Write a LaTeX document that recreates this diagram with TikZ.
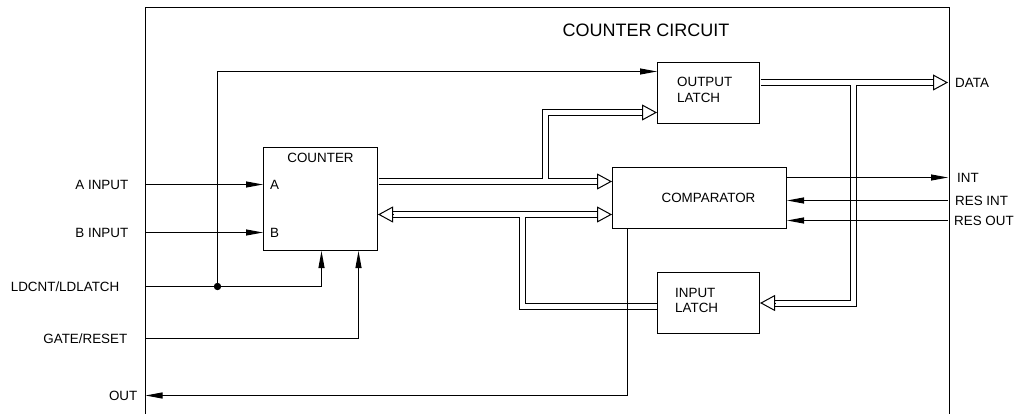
\documentclass[tikz,border=0pt]{standalone}
\usepackage{fontspec}
\setmainfont{Liberation Sans}
\usetikzlibrary{arrows.meta,positioning}

\newcommand\lblfont{\fontsize{13.4}{15.5}\selectfont}
\newcommand\ttlfont{\fontsize{18}{21}\selectfont}

\tikzset{
  blk/.style={draw, line width=1pt, inner sep=0pt},
  lbl/.style={font=\lblfont, inner sep=0pt, text height=9.6pt, text depth=0pt},
  blktxt/.style={font=\lblfont, inner sep=0pt, align=left, anchor=west},
  wire/.style={line width=1pt},
  sig/.style={line width=1pt, -{Triangle[length=17pt,width=6pt]}},
  bus/.style={double, double distance=5pt, line width=1pt},
  bustip/.style={line width=1pt, -{Triangle[length=15pt,width=16pt,fill=white]}},
}

\begin{document}
\begin{tikzpicture}[x=1pt,y=-1pt]
    \useasboundingbox (0,0) rectangle (1016,414);
    % frame
    \draw[wire] (145.5,414) |- (949.5,7.5) -- (949.5,414);
    \node[font=\ttlfont, inner sep=0pt] (title) at (646,30) {COUNTER CIRCUIT};

    % blocks
    \node[blk, minimum width=114pt, minimum height=103pt] (counter) at (320.5,199) {};
    \node[blk, minimum width=174pt, minimum height=61pt] (comparator) at (699.5,198) {};
    \node[blk, minimum width=102pt, minimum height=61pt] (outlatch) at (708.5,93) {};
    \node[blk, minimum width=102pt, minimum height=61pt] (inlatch) at (708.5,303) {};
    \node[lbl, below=6pt of counter.north] (cnttxt) {COUNTER};
    \node[lbl] (cmptxt) at ([xshift=9pt]comparator.center) {COMPARATOR};
    \node[blktxt] (oltxt) at ([xshift=20pt,yshift=3pt]outlatch.west) {OUTPUT\\LATCH};
    \node[blktxt] (iltxt) at ([xshift=18pt,yshift=2.5pt]inlatch.west) {INPUT\\LATCH};

    % pins on the frame
    \coordinate (aIn) at (145.5,184.5);
    \coordinate (bIn) at (145.5,232.5);
    \coordinate (ldIn) at (145.5,286.5);
    \coordinate (gateIn) at (145.5,338.5);
    \coordinate (outp) at (145.5,395.5);
    \coordinate (jn) at (217.5,286.5);
    \coordinate (data) at (948,82.5);
    \coordinate (int) at (948,177.5);
    \coordinate (resInt) at (948,200.5);
    \coordinate (resOut) at (948,220.5);
    \node[lbl, left=17pt of aIn] (aLbl) {A INPUT};
    \node[lbl, left=17pt of bIn] (bLbl) {B INPUT};
    \node[lbl, left=26pt of ldIn] (ldLbl) {LDCNT/LDLATCH};
    \node[lbl, left=18pt of gateIn] (gateLbl) {GATE/RESET};
    \node[lbl, left=8pt of outp] (outLbl) {OUT};
    \node[lbl, right=7pt of data] (dataLbl) {DATA};
    \node[lbl, right=9pt of int] (intLbl) {INT};
    \node[lbl, right=7pt of resInt] (resIntLbl) {RES INT};
    \node[lbl, right=6pt of resOut] (resOutLbl) {RES OUT};
    \node[lbl, anchor=west] (pinA) at ([xshift=7pt]aIn -| counter.west) {A};
    \node[lbl, anchor=west] (pinB) at ([xshift=7pt]bIn -| counter.west) {B};

    % busses
    \coordinate (upBr) at (545.5,181.5);
    \coordinate (loBr) at (522.5,214.5);
    \coordinate (dataBr) at (853.5,82.5);
    \draw[bus, shorten <=0.5pt, shorten >=14pt] (counter.east |- upBr) -- (comparator.west |- upBr);
    \draw[bustip] ([xshift=-15pt]comparator.west |- upBr) -- (comparator.west |- upBr);
    \draw[bus, shorten >=14pt] ([yshift=2.5pt]upBr) |- ([yshift=-19.5pt]outlatch.west);
    \draw[bustip] ([xshift=-15pt,yshift=-19.5pt]outlatch.west) -- ([yshift=-19.5pt]outlatch.west);
    \draw[bus, shorten <=14pt, shorten >=14pt] (counter.east |- loBr) -- (comparator.west |- loBr);
    \draw[bustip] ([xshift=15pt]counter.east |- loBr) -- (counter.east |- loBr);
    \draw[bustip] ([xshift=-15pt]comparator.west |- loBr) -- (comparator.west |- loBr);
    \draw[bus, shorten >=0.5pt] ([yshift=-2.5pt]loBr) |- ([yshift=-3.5pt]inlatch.west);
    \draw[bus, shorten <=0.5pt, shorten >=14pt] (outlatch.east |- data) -- (data);
    \draw[bustip] ([xshift=-15pt]data) -- (data);
    \draw[bus, shorten >=14pt] ([yshift=-2.5pt]dataBr) |- (inlatch.east);
    \draw[bustip] ([xshift=15pt]inlatch.east) -- (inlatch.east);

    % single lines
    \draw[sig] (aIn) -- (aIn -| counter.west);
    \draw[sig] (bIn) -- (bIn -| counter.west);
    \draw[sig] (ldIn) -| ([xshift=1pt]counter.south);
    \draw[sig] (gateIn) -| ([xshift=38pt]counter.south);
    \fill (jn) circle (3.7pt);
    \draw[sig] (jn) |- ([yshift=21.5pt]outlatch.west);
    \draw[sig] (comparator.east |- int) -- (int);
    \draw[sig] (resInt) -- (resInt -| comparator.east);
    \draw[sig] (resOut) -- (resOut -| comparator.east);
    \draw[sig] ([xshift=15pt]comparator.south west) |- (outp);
\end{tikzpicture}
\end{document}
